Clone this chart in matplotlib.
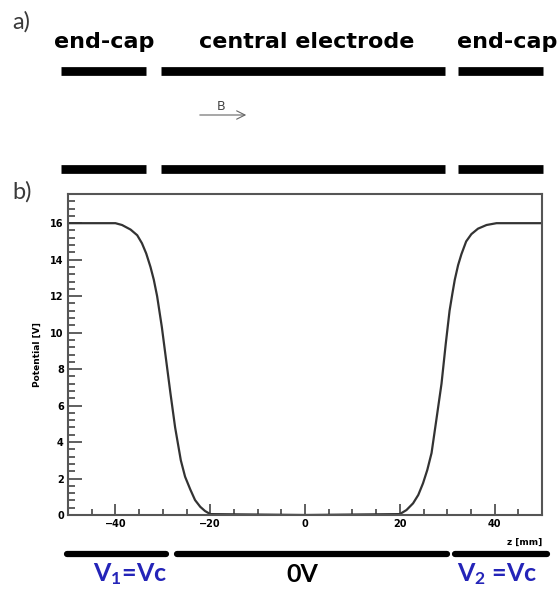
import numpy as np
import matplotlib.pyplot as plt
from matplotlib.ticker import MultipleLocator

# potential along the trap axis
z_mm = [-50, -44, -40, -38.6, -36.8, -35.4, -34.4, -33.5, -32.6, -31.9, -31.2,
        -30.2, -29.3, -28.4, -27.4, -26.7, -26.2, -25.3, -24.2, -23.2, -22.1,
        -21.1, -20, 0, 20, 21.4, 22.8, 23.9, 24.9, 25.8, 26.7, 27.7, 28.8,
        29.7, 30.5, 31.1, 31.6, 32.3, 33.0, 34.0, 35.1, 36.5, 38.3, 40.4, 44, 50]
potential_v = [16, 16, 16, 15.9, 15.65, 15.34, 14.9, 14.34, 13.6, 12.9, 12.0,
               10.3, 8.5, 6.7, 4.8, 3.75, 3.0, 2.1, 1.4, 0.82, 0.45,
               0.22, 0.05, 0, 0.05, 0.27, 0.64, 1.1, 1.74, 2.47, 3.4, 5.2, 7.2,
               9.4, 11.2, 12.15, 12.9, 13.7, 14.3, 15.0, 15.4, 15.7, 15.9, 16, 16, 16]

# electrode sketch (pixel positions of the drawing)
top_bars = [(61, 146), (161, 445), (458, 543)]
top_rows = [71, 169]
top_names = ["end-cap", "central electrode", "end-cap"]
top_name_x = [104, 307, 507]
bottom_bars = [(67, 166), (177, 447), (455, 547)]
bottom_names = ["V$_1$=Vc", "0V", "V$_2$ =Vc"]
bottom_name_x = [130, 302, 497]
bottom_colors = ["#2424b8", "black", "#2424b8"]


def main():
    plt.rcParams['mathtext.fontset'] = 'custom'
    plt.rcParams['mathtext.rm'] = 'Lato:bold'
    plt.rcParams['mathtext.it'] = 'Lato:bold'

    fig = plt.figure(figsize=(5.6, 5.96), dpi=100)

    # graphique b)
    ax = fig.add_axes([68 / 560, 81 / 596, 474 / 560, 321 / 596])
    ax.plot(z_mm, potential_v, color="#333333", lw=1.6)
    ax.set_xlim(-50, 50)
    ax.set_ylim(0, 17.6)
    ax.xaxis.set_major_locator(MultipleLocator(20))
    ax.xaxis.set_minor_locator(MultipleLocator(5))
    ax.yaxis.set_major_locator(MultipleLocator(2))
    ax.yaxis.set_minor_locator(MultipleLocator(0.4))
    ax.tick_params(which="both", direction="in", color="#444444", width=1.2,
                   labelsize=7, pad=3)
    ax.tick_params(axis="y", which="major", length=10)
    ax.tick_params(axis="y", which="minor", length=5)
    ax.tick_params(axis="x", which="major", length=8)
    ax.tick_params(axis="x", which="minor", length=4)
    for lab in ax.get_xticklabels() + ax.get_yticklabels():
        lab.set_fontweight("bold")
    for s in ax.spines.values():
        s.set_color("#555555")
        s.set_linewidth(1.5)
    ax.set_ylabel("Potential [V]", fontsize=6.5, fontweight="bold", labelpad=6)
    ax.set_xlabel("z [mm]", fontsize=6.5, fontweight="bold", loc="right",
                  labelpad=6)

    # schéma a) et légendes des électrodes
    ov = fig.add_axes([0, 0, 1, 1], zorder=5)
    ov.set_xlim(0, 560)
    ov.set_ylim(596, 0)
    ov.axis("off")
    ov.patch.set_alpha(0)

    ov.text(12, 22, "a)", fontsize=17, family="Lato", color="#3a3a3a",
            va="center")
    ov.text(12, 192, "b)", fontsize=17, family="Lato", color="#3a3a3a",
            va="center")
    for name, x in zip(top_names, top_name_x):
        ov.text(x, 48, name, fontsize=16, fontweight="bold",
                family="DejaVu Sans", ha="center", va="baseline")
    for y in top_rows:
        for x0, x1 in top_bars:
            ov.plot([x0, x1], [y, y], color="black", lw=6.3, solid_capstyle="butt")

    ov.annotate("", xy=(249, 115), xytext=(197, 115),
                arrowprops=dict(arrowstyle="->", color="#666666", lw=0.8,
                                mutation_scale=15))
    ov.text(221, 107, "B", fontsize=9, color="#444444", ha="center",
            va="center")

    for x0, x1 in bottom_bars:
        ov.plot([x0, x1], [554, 554], color="black", lw=4.5,
                solid_capstyle="round")
    for name, x, c in zip(bottom_names, bottom_name_x, bottom_colors):
        ov.text(x, 574, name, fontsize=18, family="Lato", fontweight="bold",
                color=c, ha="center", va="center")

    fig.savefig("out.png", dpi=100)


if __name__ == "__main__":
    main()
